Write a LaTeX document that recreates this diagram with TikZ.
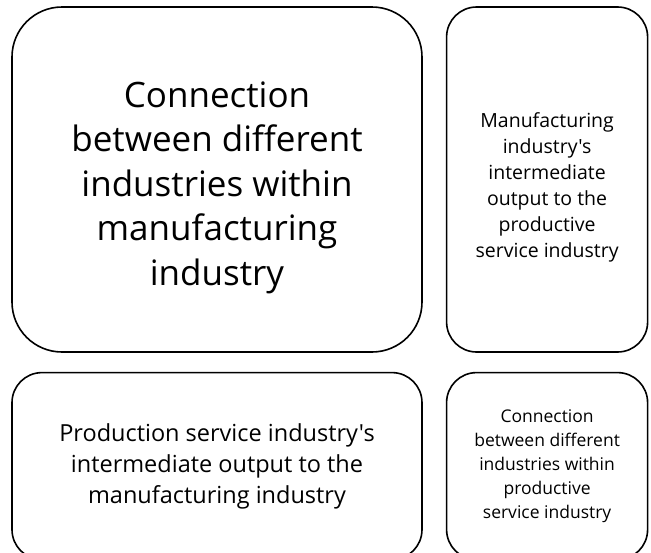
\documentclass[tikz,border=0pt]{standalone}
\usepackage{fontspec}
\setmainfont{Open Sans}[Ligatures=TeXOff]
\usetikzlibrary{positioning}

\begin{document}
\begin{tikzpicture}[x=1pt, y=-1pt,
        node distance=19pt and 23pt,
        box/.style={
                rectangle, draw, line width=1.6pt,
                rounded corners=30pt,
                align=center, inner sep=0pt
            },
        big/.style={align=center, font=\fontsize{35}{44.5}\selectfont},
        mid/.style={font=\fontsize{23.5}{31}\selectfont},
        small/.style={align=center, font=\fontsize{19.5}{26}\selectfont},
        tiny/.style={font=\fontsize{17.5}{24}\selectfont}
    ]
    \useasboundingbox (0,0) rectangle (651,552);
    \clip (0,0) rectangle (651,552);

    % top row
    \node[box, rounded corners=50pt, minimum width=410pt, minimum height=345pt]
        (manuf) at (217,179.5) {};
    \node[box, minimum width=201pt, minimum height=345pt, right=23pt of manuf]
        (tosrv) {};
    \node[big] (manuftxt) at ([yshift=-8pt]manuf.center)
        {Connection\\between different\\industries within\\manufacturing\\industry};
    \node[small] (tosrvtxt) at ([yshift=-8pt]tosrv.center)
        {Manufacturing\\industry's\\intermediate\\output to the\\productive\\service industry};

    % bottom row, runs off the lower edge
    \node[box, mid, minimum width=410pt, minimum height=187pt, below=19pt of manuf]
        (tomanuf) {Production service industry's\\intermediate output to the\\manufacturing industry};
    \node[box, tiny, minimum width=201pt, minimum height=187pt, below=19pt of tosrv]
        (srv) {Connection\\between different\\industries within\\productive\\service industry};
\end{tikzpicture}
\end{document}
